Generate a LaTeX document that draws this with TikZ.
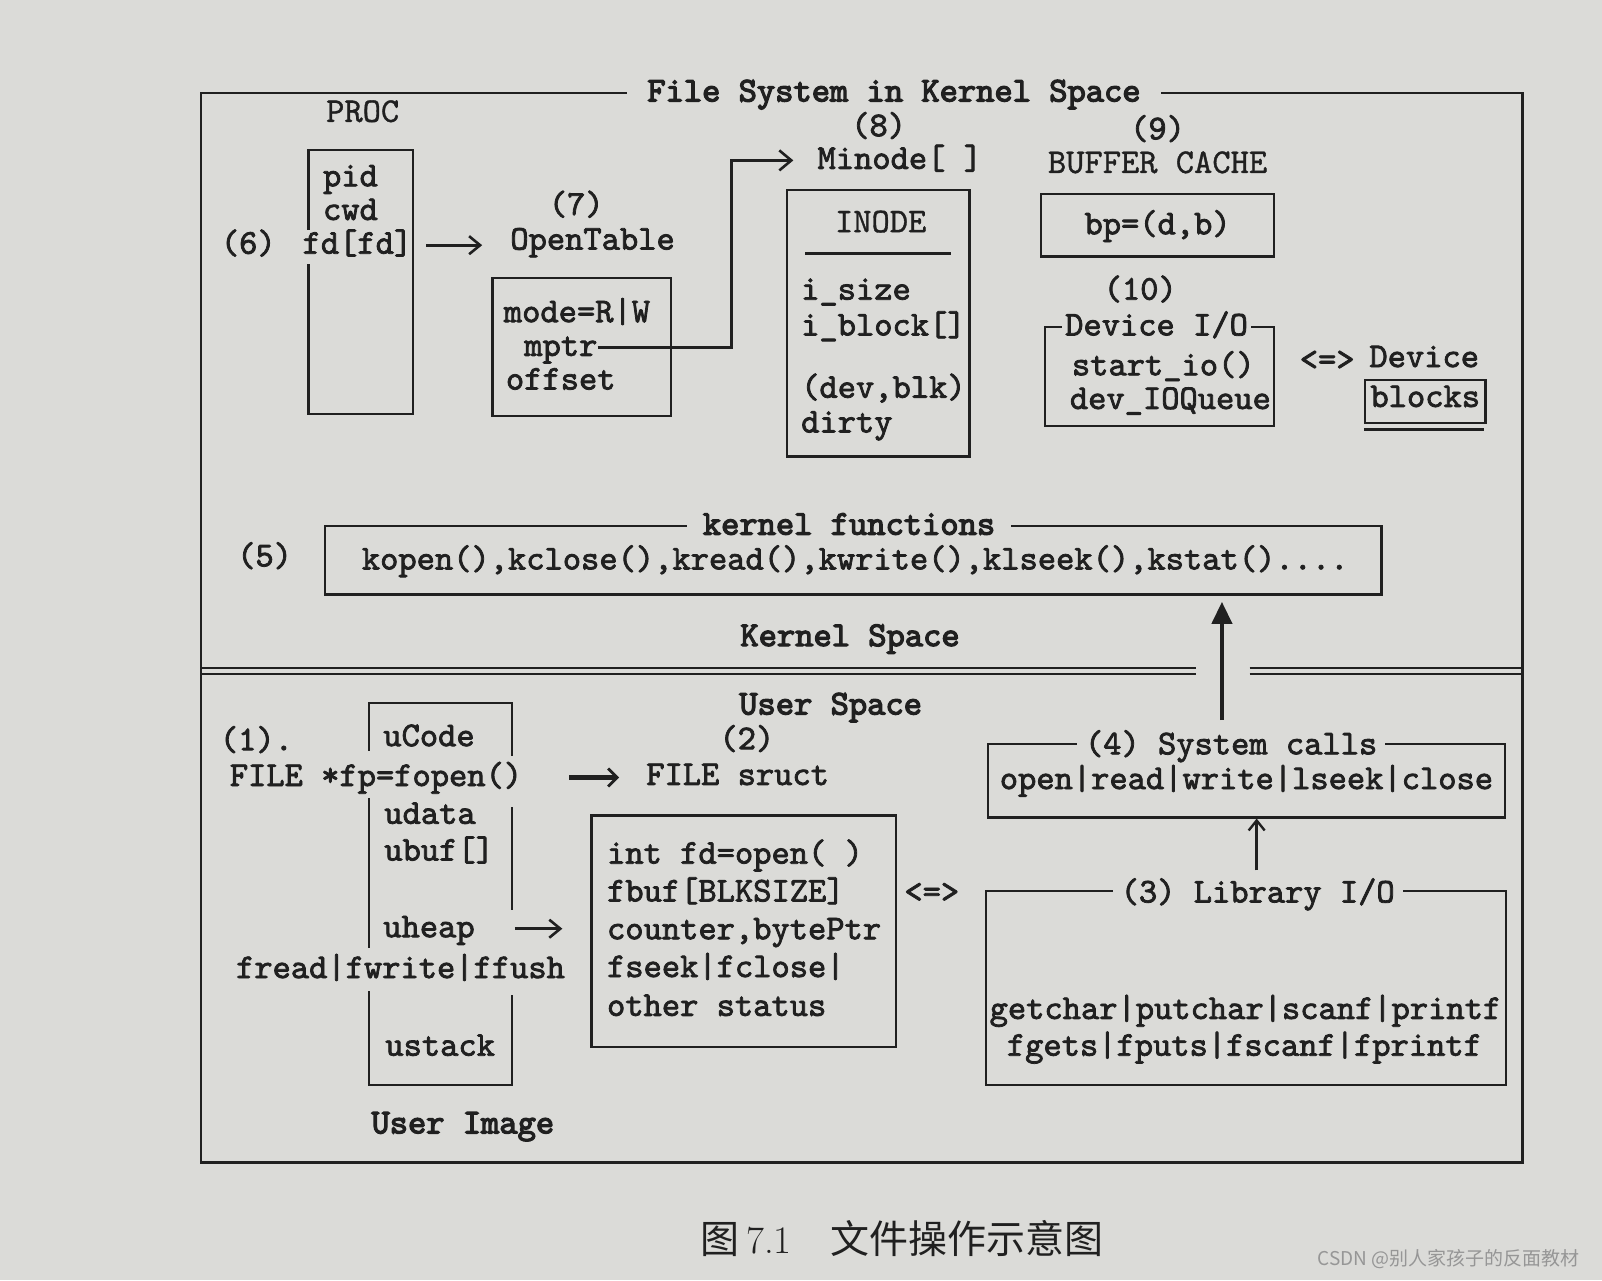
\documentclass[tikz,border=0pt]{standalone}
\usepackage{fontspec}
\usetikzlibrary{arrows.meta,fit}
\newfontfamily\codefont{lmmono10-regular}[Extension=.otf,FakeBold=2.2]
\newfontfamily\codefontb{lmmono10-regular}[Extension=.otf,FakeBold=3.6]
\newfontfamily\codefontl{lmmono10-regular}[Extension=.otf,FakeBold=1.0]
\newfontfamily\cjkfont{Noto Sans CJK SC}
\definecolor{paper}{RGB}{219,219,216}
\definecolor{ink}{RGB}{32,32,32}
\definecolor{wmark}{RGB}{150,150,150}
\begin{document}
\begin{tikzpicture}[x=1.0217pt,y=-1.0217pt,
  ln/.style={draw=ink, line width=2.4pt},
  bx/.style={draw=ink, line width=2.4pt, inner sep=0pt},
  txt/.style={font=\codefont\fontsize{34.8}{40}\selectfont, text=ink, inner sep=0pt, text height=24pt, text depth=7pt},
  txtl/.style={font=\codefontl\fontsize{34.8}{40}\selectfont, text=ink, inner sep=0pt, text height=24pt, text depth=7pt},
  ttl/.style={font=\codefontb\fontsize{34.8}{40}\selectfont, text=ink, inner sep=0pt, text height=24pt, text depth=7pt},
  ttlgap/.style={fill=paper, inner xsep=#1},
  ttlgap/.default=10pt,
  arr/.style={ink, line width=2.6pt, -{Straight Barb[length=11pt,width=18pt]}},
]
\useasboundingbox (0,0) rectangle (1568,1253);
\fill[paper] (0,0) rectangle (1568,1253);

% outer frame
\draw[ln] (197,91) rectangle (1490,1138);
\node[ttl, ttlgap=20pt] (fstitle) at (875,91) {File System in Kernel Space};

% (6) PROC
\node[txtl] (proclbl) at (355,111) {PROC};
\draw[ln] (302,225) -- (302,147) -- (404,147) -- (404,405) -- (302,405) -- (302,258);
\node[txt, anchor=west] (pid) at (316,174) {pid};
\node[txt, anchor=west] (cwd) at (316,207) {cwd};
\node[txt, anchor=west] (fdfd) at (296,240) {fd[fd]};
\node[txt, anchor=west] (n6) at (216,240) {(6)};

% (7) OpenTable
\node[txt] (n7) at (564,202) {(7)};
\node[txt] (otl) at (580,236) {OpenTable};
\node[bx, fit={(482,272) (657,407)}] (otbox) {};
\node[txt, anchor=west] (mode) at (493,307) {mode=R|W};
\node[txt, anchor=west] (mptr) at (513,340) {mptr};
\node[txt, anchor=west] (offset) at (495,373) {offset};
\draw[arr, shorten <=14pt, shorten >=28pt] (fdfd.east) -- (fdfd.east -| otl.west);

% (8) Minode
\node[txt] (n8) at (860,125) {(8)};
\node[txt, anchor=west] (minl) at (800,157) {Minode[ ]};
\node[bx, fit={(770,186) (949,447)}] (inode) {};
\node[txtl] (inodel) at (862,219) {INODE};
\draw[ln] (788,248) -- (931,248);
\node[txt, anchor=west] (isize) at (784,285) {i\_size};
\node[txt, anchor=west] (iblock) at (784,320) {i\_block[]};
\node[txt, anchor=west] (devblk) at (784,381) {(dev,blk)};
\node[txt, anchor=west] (dirty) at (784,415) {dirty};
\coordinate (mturn) at (716,340);
\draw[ink, line width=3.4pt, -{Straight Barb[length=12pt,width=20pt,line width=2.6pt]}, shorten >=24pt]
  (mptr.east) -- (mptr.east -| mturn) |- (minl.west);

% (9) buffer cache
\node[txt] (n9) at (1133,128) {(9)};
\node[txtl] (bcl) at (1133,161) {BUFFER CACHE};
\node[bx, fit={(1019,190) (1247,251)}] (bpbox) {};
\node[txt] (bp) at (1133,221) {bp=(d,b)};

% (10) device I/O
\node[txt] (n10) at (1116,285) {(10)};
\node[bx, fit={(1023,320) (1247,417)}] (devbox) {};
\node[txt, ttlgap=3pt] (devtitle) at (1132,320) {Device I/O};
\node[txt, anchor=west] (startio) at (1049,359) {start\_io()};
\node[txt, anchor=west] (devq) at (1047,392) {dev\_IOQueue};
\node[txt] (dbl2) at (1299,354) {<=>};
\node[txt] (devl) at (1394,351) {Device};
\node[bx, fit={(1336,372) (1454,414)}] (blkbox) {};
\draw[ink, line width=3pt] (blkbox.south west) ++(0,5) -- ++(118,0);
\node[txt] (blocks) at (1395,390) {blocks};

% (5) kernel functions
\node[bx, fit={(318,515) (1352,582)}] (kfbox) {};
\node[ttl, ttlgap=16pt] (kftitle) at (831,515) {kernel functions};
\node[txt, anchor=west] (kfuncs) at (354,549) {kopen(),kclose(),kread(),kwrite(),klseek(),kstat()....};
\node[txt] (n5) at (259,546) {(5)};

% kernel / user separator
\node[ttl] (ksp) at (832,624) {Kernel Space};
\draw[ink, line width=2.2pt] (197,654) -- (1171,654) (197,660) -- (1171,660)
  (1223,654) -- (1490,654) (1223,660) -- (1490,660);
\node[ttl] (usp) at (813,691) {User Space};

% (4) system calls
\node[bx, fit={(967,728) (1473,800)}] (sysbox) {};
\node[txt, ttlgap=8pt] (systitle) at (1205,730) {(4) System calls};
\node[txt] (sysfuncs) at (1220,764) {open|read|write|lseek|close};
\coordinate (upx) at (1196,0);
\draw[ink, line width=4pt, -{Triangle[length=22pt,width=20pt]}, shorten <=10pt, shorten >=6pt]
  (systitle.north -| upx) -- (kfbox.south -| upx);

% (3) library I/O
\node[bx, fit={(965,872) (1474,1062)}] (libbox) {};
\node[txt, ttlgap=8pt] (libtitle) at (1231,875) {(3) Library I/O};
\node[txt] (lib1) at (1219,989) {getchar|putchar|scanf|printf};
\node[txt] (lib2) at (1218,1025) {fgets|fputs|fscanf|fprintf};
\coordinate (libx) at (1230,0);
\draw[ink, line width=2.4pt, -{Straight Barb[length=10pt,width=16pt]}, shorten <=8pt]
  (libtitle.north -| libx) -- (sysbox.south -| libx);
\node[txt] (dbl1) at (912,875) {<=>};

% (2) FILE struct
\node[txt] (n2) at (731,725) {(2)};
\node[txt] (fsl) at (722,760) {FILE sruct};
\node[bx, fit={(579,798) (877,1025)}] (fsbox) {};
\node[txt, anchor=west] (fs1) at (594,837) {int fd=open( )};
\node[txt, anchor=west] (fs2) at (594,874) {fbuf[BLKSIZE]};
\node[txt, anchor=west] (fs3) at (594,911) {counter,bytePtr};
\node[txt, anchor=west] (fs4) at (594,948) {fseek|fclose|};
\node[txt, anchor=west] (fs5) at (594,986) {other status};

% (1) user image
\draw[ln] (361,735) -- (361,688) -- (501,688) -- (501,740);
\draw[ln] (361,781) -- (361,928);
\draw[ln] (501,790) -- (501,891);
\draw[ln] (361,970) -- (361,1062) -- (501,1062) -- (501,974);
\node[txt, anchor=west] (n1) at (215,726) {(1).};
\node[txt, anchor=west] (ucode) at (375,722) {uCode};
\node[txt] (fopen) at (368,761) {FILE *fp=fopen()};
\node[txt, anchor=west] (udata) at (376,798) {udata};
\node[txt, anchor=west] (ubuf) at (376,834) {ubuf[]};
\node[txt, anchor=west] (uheap) at (375,909) {uheap};
\node[txt] (fread) at (392,949) {fread|fwrite|ffush};
\node[txt, anchor=west] (ustack) at (377,1025) {ustack};
\node[ttl] (uimg) at (453,1101) {User Image};
\draw[ink, line width=5pt, -{Straight Barb[length=9pt,width=18pt,line width=2.8pt]}, shorten <=47pt, shorten >=27pt]
  (fopen.east) -- (fopen.east -| fsl.west);
\draw[arr, shorten <=40pt, shorten >=28pt] (uheap.east) -- (uheap.east -| fsbox.west);

% caption and watermark
\node[text=ink, inner sep=0pt, font=\fontsize{39}{44}\selectfont] (caption) at (883,1212)
  {{\cjkfont 图}\,7.1\quad{\cjkfont 文件操作示意图}};
\node[text=wmark, inner sep=0pt, font=\cjkfont\fontsize{19}{22}\selectfont] (wm) at (1418,1232)
  {CSDN @别人家孩子的反面教材};
\end{tikzpicture}
\end{document}
